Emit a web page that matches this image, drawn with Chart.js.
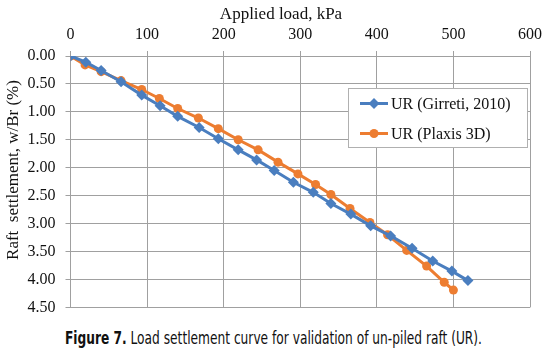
<!DOCTYPE html>
<html>
<head>
<meta charset="utf-8">
<script src="https://cdn.jsdelivr.net/npm/chart.js@4/dist/chart.umd.min.js"></script>
<style>
  html, body { margin: 0; padding: 0; background: #fff; }
  #wrap { position: relative; width: 560px; height: 361px; overflow: hidden; }
  #chart { position: absolute; left: 0; top: 0; }
  #caption {
    position: absolute; left: 65px; top: 327px; white-space: nowrap;
    font-family: "Liberation Sans Narrow", "DejaVu Sans Condensed", Roboto, sans-serif;
    font-size: 18px; color: #111; transform-origin: 0 0;
  }
</style>
</head>
<body>
<div id="wrap">
  <canvas id="chart" width="560" height="327"></canvas>
  <div id="caption"><b>Figure 7.</b> Load settlement curve for validation of un-piled raft (UR).</div>
</div>
<script>
'use strict';

// ---------------------------------------------------------------------------
// data
// ---------------------------------------------------------------------------
const girretiLoad   = [0, 20, 40, 66, 93, 117, 140, 168, 193, 219, 243, 266, 291, 317, 340, 366, 392, 418, 446, 473, 498, 519];
const girretiSettle = [0, 0.11, 0.26, 0.46, 0.70, 0.89, 1.08, 1.28, 1.48, 1.68, 1.86, 2.05, 2.26, 2.44, 2.64, 2.83, 3.04, 3.22, 3.44, 3.67, 3.85, 4.02];

const plaxisLoad    = [0, 19, 40, 66, 93, 116, 140, 167, 193, 219, 245, 271, 297, 320, 340, 365, 391, 414, 439, 465, 488, 500];
const plaxisSettle  = [0, 0.16, 0.28, 0.44, 0.60, 0.76, 0.94, 1.11, 1.30, 1.50, 1.68, 1.90, 2.11, 2.30, 2.48, 2.73, 2.98, 3.20, 3.48, 3.76, 4.05, 4.19];

const seriesLabels  = ['UR (Girreti, 2010)', 'UR (Plaxis 3D)'];
const xTitle = 'Applied load, kPa';
const yTitle = 'Raft  settlement, w/Br (%)';

const BLUE   = '#4a7ebf';
const ORANGE = '#ed7d31';
const GRID   = '#a0a0a0';
const SERIF  = '"Liberation Serif", "Times New Roman", serif';

const toPoints = (xs, ys) => xs.map((x, i) => ({ x, y: ys[i] }));

// ---------------------------------------------------------------------------
// legend box inside plot + axis titles at their own spots
// ---------------------------------------------------------------------------
const boxLegend = {
    id: 'boxLegend',
    afterDraw(chart) {
        const ctx = chart.ctx;
        const bx = 348, by = 88, bw = 179, bh = 59;
        ctx.save();
        ctx.fillStyle = '#fff';
        ctx.fillRect(bx, by, bw, bh);
        ctx.strokeStyle = '#b0b0b0';
        ctx.lineWidth = 1;
        ctx.strokeRect(bx + 0.5, by + 0.5, bw, bh);
        ctx.font = '16px ' + SERIF;
        ctx.textBaseline = 'middle';
        chart.data.datasets.forEach((ds, i) => {
            const y = by + 15.5 + i * 30;
            ctx.strokeStyle = ds.borderColor;
            ctx.lineWidth = 3;
            ctx.beginPath();
            ctx.moveTo(360, y);
            ctx.lineTo(388, y);
            ctx.stroke();
            ctx.fillStyle = ds.borderColor;
            Chart.helpers.drawPoint(ctx, {
                pointStyle: ds.pointStyle, radius: ds.pointRadius, borderWidth: 0
            }, 374, y);
            ctx.fillStyle = '#111';
            ctx.textAlign = 'left';
            ctx.fillText(ds.label, 391, y + 1);
        });

        // axis titles
        ctx.fillStyle = '#111';
        ctx.font = '17px ' + SERIF;
        ctx.textAlign = 'center';
        ctx.fillText(xTitle, 281, 15);
        ctx.translate(14, 170);
        ctx.rotate(-Math.PI / 2);
        ctx.fillText(yTitle, 0, 0);
        ctx.restore();
    }
};

// ---------------------------------------------------------------------------
// chart
// ---------------------------------------------------------------------------
new Chart(document.getElementById('chart'), {
    type: 'line',
    data: {
        datasets: [
            {
                label: seriesLabels[0],
                data: toPoints(girretiLoad, girretiSettle),
                borderColor: BLUE, backgroundColor: BLUE,
                borderWidth: 3, pointStyle: 'rectRot', pointRadius: 5.5,
                pointBorderWidth: 0, tension: 0,
            },
            {
                label: seriesLabels[1],
                data: toPoints(plaxisLoad, plaxisSettle),
                borderColor: ORANGE, backgroundColor: ORANGE,
                borderWidth: 3, pointStyle: 'circle', pointRadius: 4.5,
                pointBorderWidth: 0, tension: 0,
            },
        ],
    },
    options: {
        responsive: false,
        animation: false,
        devicePixelRatio: 1,
        layout: { padding: { top: 0, left: 0, right: 30, bottom: 9 } },
        plugins: { legend: { display: false }, tooltip: { enabled: false } },
        scales: {
            x: {
                type: 'linear', position: 'top', min: 0, max: 600,
                afterFit: (s) => { s.height = 56; },
                ticks: { stepSize: 100, padding: 7, color: '#111', font: { family: SERIF, size: 16 } },
                grid: { color: GRID, tickLength: 5, lineWidth: 1 },
                border: { color: GRID },
            },
            y: {
                type: 'linear', reverse: true, min: 0, max: 4.5,
                afterFit: (s) => { s.width = 70.5; },
                ticks: {
                    stepSize: 0.5, padding: 10, color: '#111',
                    font: { family: SERIF, size: 16 },
                    callback: (v) => Number(v).toFixed(2),
                },
                grid: { color: GRID, tickLength: 5, lineWidth: 1 },
                border: { color: GRID },
            },
        },
    },
    plugins: [boxLegend],
});

// fit the condensed caption to its width in the figure
const cap = document.getElementById('caption');
const w = cap.getBoundingClientRect().width;
cap.style.transform = 'scaleX(' + (417 / w) + ')';
</script>
</body>
</html>
